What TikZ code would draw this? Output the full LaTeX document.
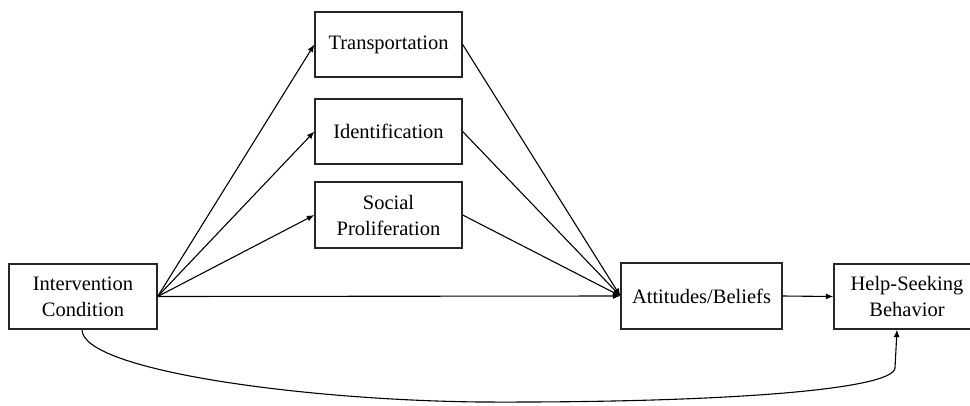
\documentclass[tikz,border=0pt]{standalone}
\usepackage{fontspec}
\setmainfont{Liberation Serif}
\usetikzlibrary{arrows.meta}
\begin{document}
\begin{tikzpicture}[x=1pt,y=-1pt,
  box/.style={draw=black!85, line width=1.3pt, rectangle, align=center,
    inner sep=0pt, font=\fontsize{20.5}{26}\selectfont},
  arr/.style={line width=1.1pt, -{Latex[length=7.5pt,width=6pt]}}]
\clip (0,0) rectangle (970,405);
\useasboundingbox (0,0) rectangle (970,405);
\node[box, minimum width=148pt, minimum height=65pt] (int) at (83,296.5) {Intervention\\Condition};
\node[box, minimum width=147pt, minimum height=65pt] (tra) at (388.5,44.5) {Transportation};
\node[box, minimum width=147pt, minimum height=65pt] (ide) at (388.5,131.5) {Identification};
\node[box, minimum width=147pt, minimum height=66pt] (soc) at (388.5,215) {Social\\Proliferation};
\node[box, minimum width=161pt, minimum height=66pt] (att) at (701.5,296) {Attitudes/Beliefs};
\node[box, minimum width=146pt, minimum height=65pt] (hel) at (907,296.5) {Help-Seeking\\Behavior};
\coordinate (io) at (int.east);
\coordinate (ai) at (att.west);
\draw[arr] (io) -- (tra.west);
\draw[arr] (io) -- (ide.west);
\draw[arr] (io) -- (soc.west);
\draw[arr] (io) -- (ai);
\draw[arr] (tra.east) -- (ai);
\draw[arr] (ide.east) -- (ai);
\draw[arr] (soc.east) -- (ai);
\draw[arr] (att.east) -- (hel.west);
\coordinate (low) at (480,402);
\draw[arr] (int.south -| 82,0) .. controls (82,370) and (300,400) .. (low)
  .. controls (720,403) and (893,390) .. (895,368) -- (hel.south -| 897,0);
\end{tikzpicture}
\end{document}
